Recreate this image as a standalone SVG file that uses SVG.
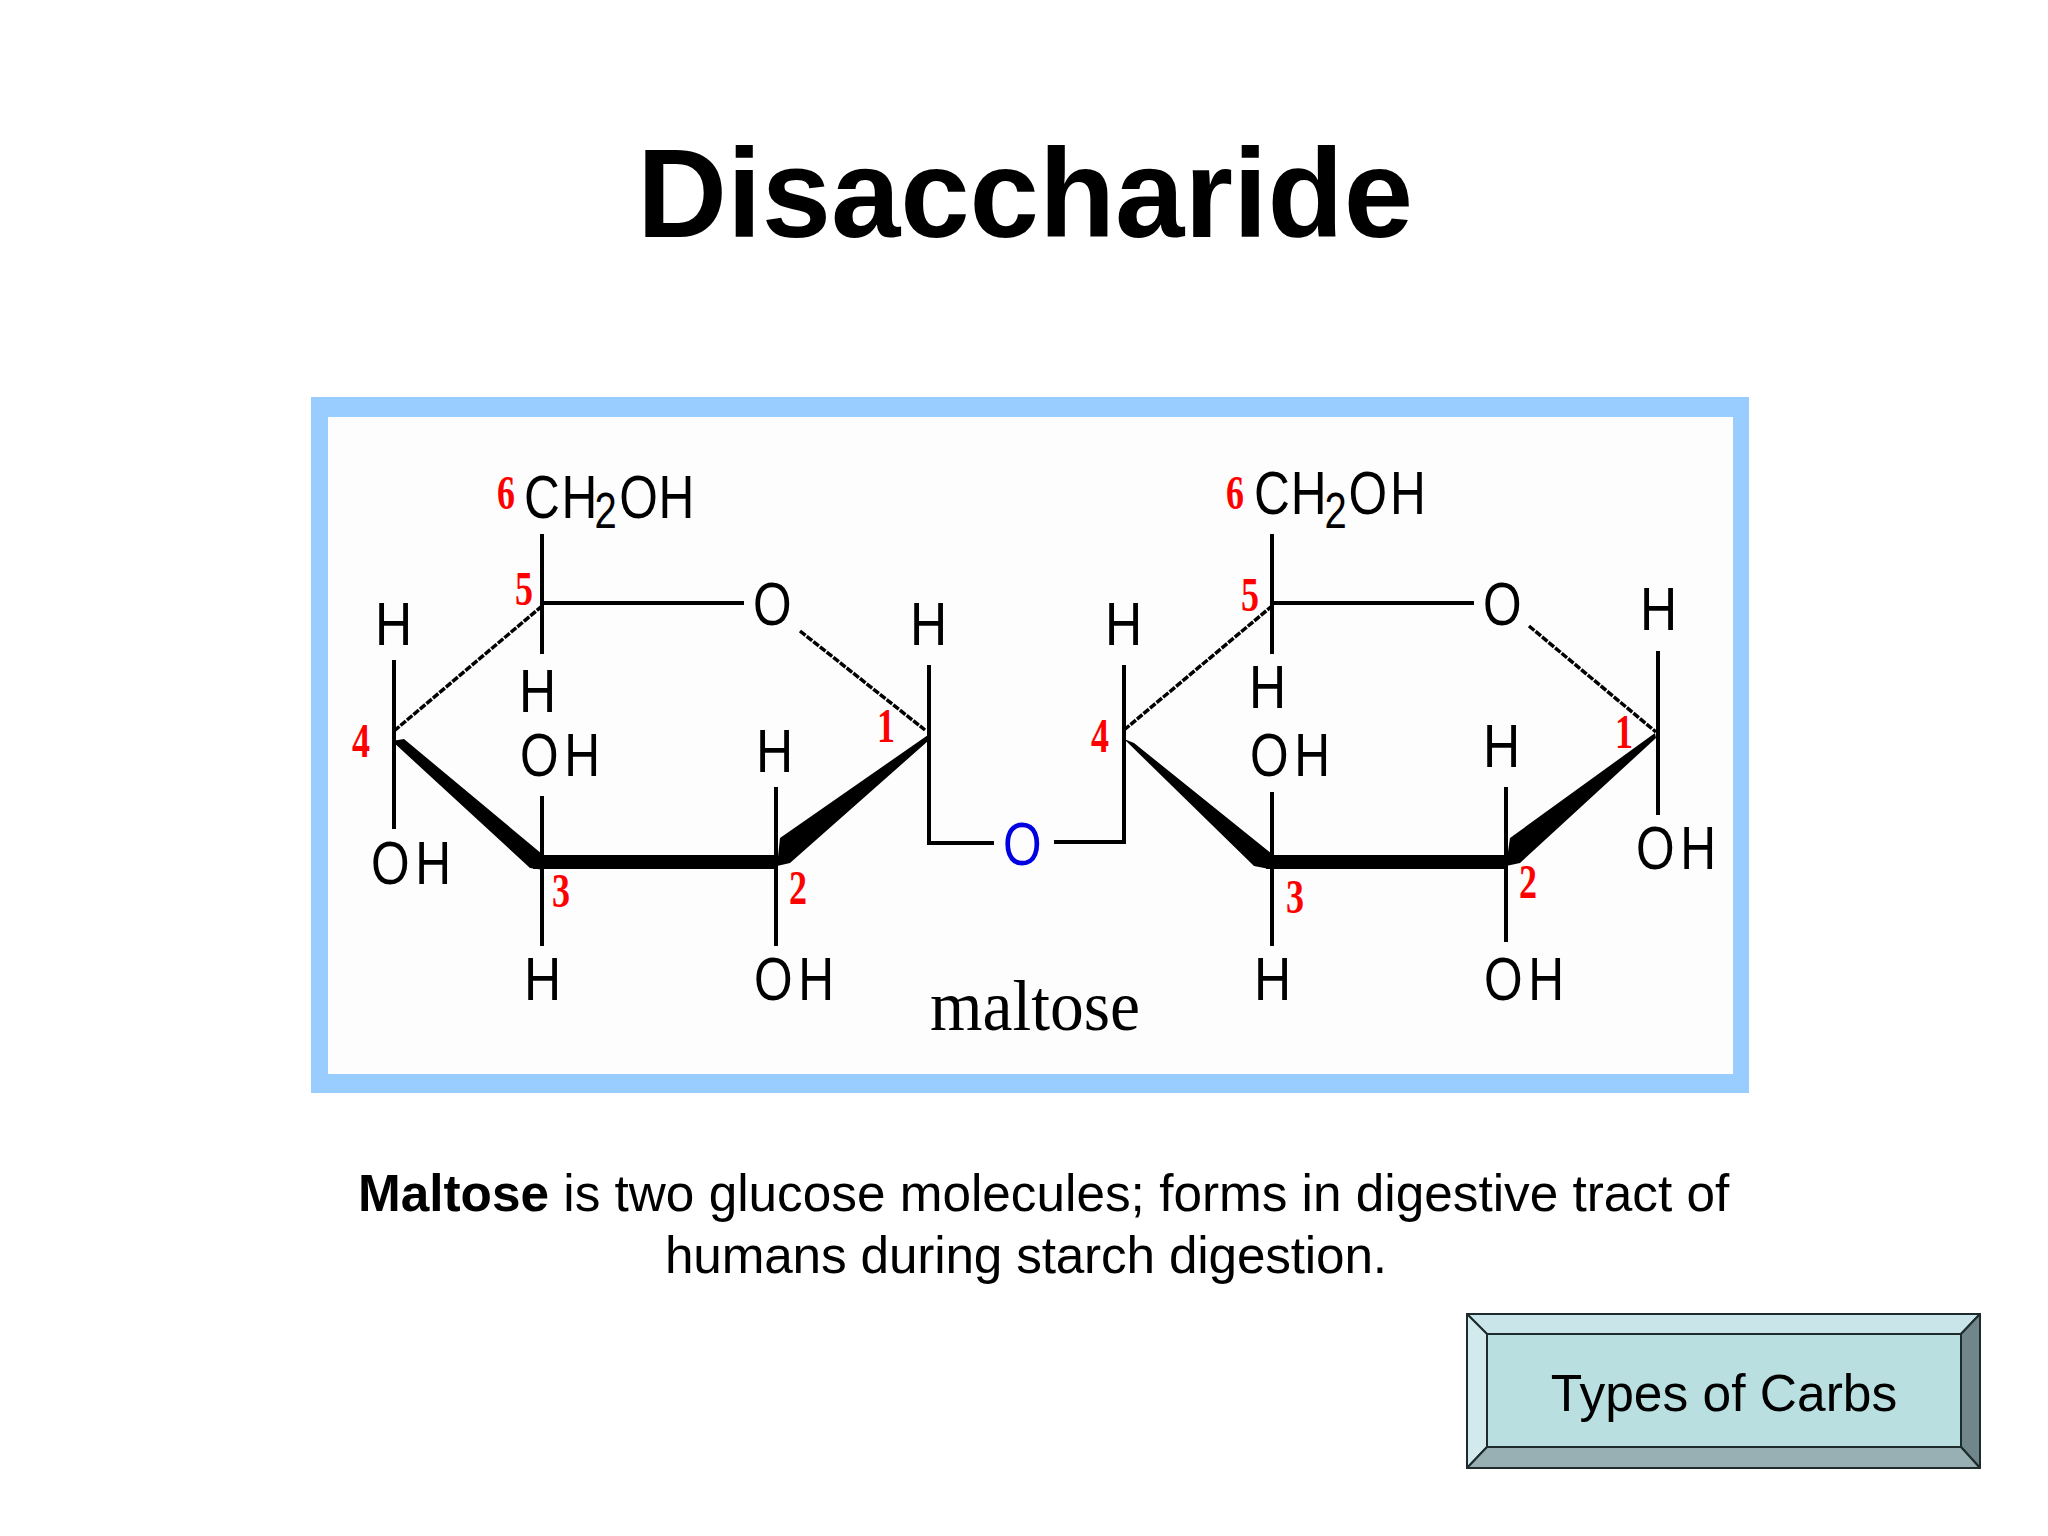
<svg xmlns="http://www.w3.org/2000/svg" width="2048" height="1536" viewBox="0 0 2048 1536">
<style>
.a{font-family:"Liberation Sans",Arial,sans-serif;fill:#000}
.m{font-family:"Liberation Sans",Arial,sans-serif;font-size:62px;fill:#000}
.oh{letter-spacing:7px}
.n{font-family:"Liberation Serif","Times New Roman",serif;font-weight:700;font-size:48px;fill:#f00}
.b{stroke:#000;stroke-width:4;fill:none}
.d{stroke:#000;stroke-width:3.500;fill:none;stroke-dasharray:7 1.500}
.w{fill:#000;stroke:none}
.bev{stroke:#1d2b2d;stroke-width:2;stroke-linejoin:round}
</style>
<rect width="2048" height="1536" fill="#fff"/>
<text id="title" class="a" x="637" y="237" font-size="127" font-weight="700" textLength="776" lengthAdjust="spacingAndGlyphs">Disaccharide</text>
<g id="frame"><rect x="311" y="397" width="1438" height="696" fill="#99ccff"/><rect x="328" y="417" width="1405" height="657" fill="#fdfdfe"/></g>
<g id="connectors">
<path class="b" d="M542 534V654M542 603H744M394 660V829M776 787V946M542 796V946M929 665V843H994"/>
<path class="d" d="M394 731L542 606M800 631L925 730"/>
<path class="w" d="M392 741L404 739L542 854L544 870L530 868ZM533 855H777V869H533ZM777 866L790 863L928 741L928 735L780 838Z"/>
<path class="b" d="M1272 534V654M1272 603H1474M1658 651V815M1124 665V842H1054M1506 787V942M1272 792V946"/>
<path class="d" d="M1124 730L1272 606M1529 626L1656 732"/>
<path class="w" d="M1124 739L1134 743L1272 854L1274 870L1254 866ZM1266 855H1507V869H1266ZM1506 866L1520 863L1656 738L1655 733L1510 838Z"/>
</g>
<g id="left-glucose">
<text class="m" transform="translate(524,518) scale(.8,1)">C<tspan x="47">H</tspan><tspan x="88" dy="10" font-size="50">2</tspan><tspan x="119" dy="-10">O</tspan><tspan x="168">H</tspan></text>
<text class="m" transform="translate(753,625) scale(.8,1)">O</text>
<text class="m" transform="translate(375,645) scale(.83,1)">H</text>
<text class="m" transform="translate(519,712) scale(.83,1)">H</text>
<text class="m oh" transform="translate(520,776) scale(.8,1)">OH</text>
<text class="m" transform="translate(756,772) scale(.83,1)">H</text>
<text class="m" transform="translate(910,645) scale(.83,1)">H</text>
<text class="m oh" transform="translate(371,884) scale(.8,1)">OH</text>
<text class="m" transform="translate(524,1000) scale(.83,1)">H</text>
<text class="m oh" transform="translate(754,1000) scale(.8,1)">OH</text>
<text class="n" transform="translate(497,509) scale(.75,1)">6</text>
<text class="n" transform="translate(515,605) scale(.75,1)">5</text>
<text class="n" transform="translate(352,757) scale(.75,1)">4</text>
<text class="n" transform="translate(877,742) scale(.75,1)">1</text>
<text class="n" transform="translate(552,907) scale(.75,1)">3</text>
<text class="n" transform="translate(789,904) scale(.75,1)">2</text>
</g>
<g id="glycosidic-oxygen"><text class="m" transform="translate(1003,865) scale(.8,1)" style="fill:#0000e0">O</text></g>
<g id="right-glucose">
<text class="m" transform="translate(1254,514) scale(.8,1)">C<tspan x="46">H</tspan><tspan x="88" dy="14" font-size="50">2</tspan><tspan x="118" dy="-14">O</tspan><tspan x="170">H</tspan></text>
<text class="m" transform="translate(1483,625) scale(.8,1)">O</text>
<text class="m" transform="translate(1640,630) scale(.83,1)">H</text>
<text class="m" transform="translate(1105,645) scale(.83,1)">H</text>
<text class="m" transform="translate(1249,708) scale(.83,1)">H</text>
<text class="m oh" transform="translate(1250,776) scale(.8,1)">OH</text>
<text class="m" transform="translate(1483,767) scale(.83,1)">H</text>
<text class="m oh" transform="translate(1636,869) scale(.8,1)">OH</text>
<text class="m" transform="translate(1254,1000) scale(.83,1)">H</text>
<text class="m oh" transform="translate(1484,1000) scale(.8,1)">OH</text>
<text class="n" transform="translate(1226,509) scale(.75,1)">6</text>
<text class="n" transform="translate(1241,611) scale(.75,1)">5</text>
<text class="n" transform="translate(1091,752) scale(.75,1)">4</text>
<text class="n" transform="translate(1615,748) scale(.75,1)">1</text>
<text class="n" transform="translate(1286,913) scale(.75,1)">3</text>
<text class="n" transform="translate(1519,898) scale(.75,1)">2</text>
</g>
<text id="maltose" x="930" y="1030" font-family="Liberation Serif,serif" font-size="72" textLength="210" lengthAdjust="spacingAndGlyphs" fill="#000">maltose</text>
<g id="caption" class="a" font-size="51.300">
<text x="358" y="1211"><tspan font-weight="700">Maltose</tspan> is two glucose molecules; forms in digestive tract of</text>
<text x="665" y="1273" textLength="722">humans during starch digestion.</text>
</g>
<g id="button">
<rect class="bev" x="1467" y="1314" width="513" height="154" fill="#b9dfe0"/>
<polygon class="bev" points="1467,1314 1980,1314 1961,1334 1487,1334" fill="#c9e5e9"/>
<polygon class="bev" points="1467,1314 1487,1334 1487,1447 1467,1468" fill="#d2eaed"/>
<polygon class="bev" points="1980,1314 1961,1334 1961,1447 1980,1468" fill="#71868a"/>
<polygon class="bev" points="1467,1468 1487,1447 1961,1447 1980,1468" fill="#98b0b3"/>
<text class="a" x="1724" y="1411" font-size="51.500" text-anchor="middle">Types of Carbs</text>
</g>
</svg>
